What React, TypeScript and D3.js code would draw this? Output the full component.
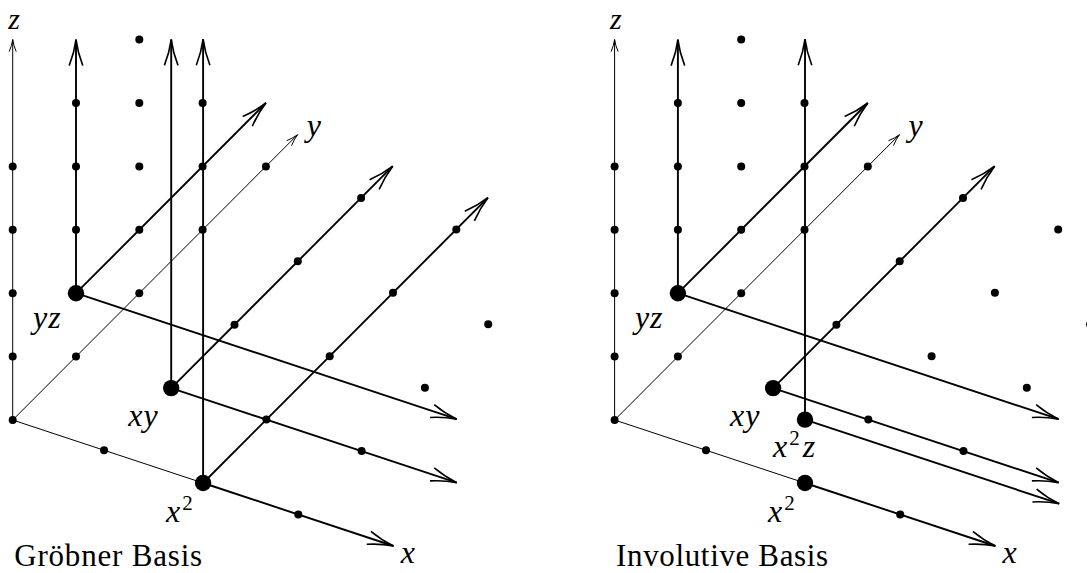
import React from 'react';
import * as d3 from 'd3';

type Vec3 = [number, number, number];

// lattice points drawn as small dots (same set in both panels)
const latticeDots: Vec3[] = [
  [0, 0, 0], [0, 0, 1], [0, 0, 2], [0, 0, 3], [0, 0, 4],
  [0, 1, 0], [0, 1, 2], [0, 1, 3], [0, 1, 4],
  [0, 2, 0], [0, 2, 1], [0, 2, 2], [0, 2, 3], [0, 2, 4],
  [0, 3, 0], [0, 3, 1], [0, 3, 2],
  [0, 4, 0],
  [0.96, 0, 0], [3, 0, 0],
  [1, 2, 0], [1, 3, 0], [1, 4, 0],
  [2, 1, 0], [2, 2, 0], [2, 3, 0], [2, 4, 0],
  [3, 1, 0], [3, 2, 0], [3, 3, 0],
];

// basis elements (big dots)
const groebnerGenerators: { m: Vec3; label: string }[] = [
  { m: [0, 1, 1], label: 'yz' },
  { m: [1, 1, 0], label: 'xy' },
  { m: [2, 0, 0], label: 'x2' },
];
const involutiveGenerators: { m: Vec3; label: string }[] = [
  { m: [0, 1, 1], label: 'yz' },
  { m: [1, 1, 0], label: 'xy' },
  { m: [2, 0, 1], label: 'x2z' },
  { m: [2, 0, 0], label: 'x2' },
];

// cones: start monomial, direction, length in lattice units
type Ray = { from: Vec3; dir: 'x' | 'y' | 'z'; len: number };
const groebnerRays: Ray[] = [
  { from: [0, 1, 1], dir: 'z', len: 4 },
  { from: [0, 1, 1], dir: 'y', len: 3 },
  { from: [0, 1, 1], dir: 'x', len: 4 },
  { from: [1, 1, 0], dir: 'z', len: 5.5 },
  { from: [1, 1, 0], dir: 'y', len: 3.5 },
  { from: [1, 1, 0], dir: 'x', len: 3 },
  { from: [2, 0, 0], dir: 'z', len: 7 },
  { from: [2, 0, 0], dir: 'y', len: 4.5 },
  { from: [2, 0, 0], dir: 'x', len: 2 },
];
const involutiveRays: Ray[] = [
  { from: [0, 1, 1], dir: 'z', len: 4 },
  { from: [0, 1, 1], dir: 'y', len: 3 },
  { from: [0, 1, 1], dir: 'x', len: 4 },
  { from: [1, 1, 0], dir: 'y', len: 3.5 },
  { from: [1, 1, 0], dir: 'x', len: 3 },
  { from: [2, 0, 1], dir: 'z', len: 6 },
  { from: [2, 0, 1], dir: 'x', len: 2.67 },
  { from: [2, 0, 0], dir: 'x', len: 2 },
];

// coordinate axes lengths
const axisLengths = { x: 2, y: 4.5, z: 6 };
const captions = ['Gröbner Basis', 'Involutive Basis'];

// label offsets (px) relative to the projected monomial
const labelOffset: Record<string, [number, number]> = {
  yz: [-43, 35],
  xy: [-43, 38],
  x2: [-37, 39],
  x2z: [-32, 37],
};

const W = 1087;
const H = 573;
const origins: [number, number][] = [[12.7, 420], [614.6, 420]];

// oblique projection of the unit vectors
const xToDx = d3.scaleLinear().domain([0, 1]).range([0, 95.2]);
const xToDy = d3.scaleLinear().domain([0, 1]).range([0, 31.5]);
const yToDx = d3.scaleLinear().domain([0, 1]).range([0, 63.3]);
const yToDy = d3.scaleLinear().domain([0, 1]).range([0, -63.4]);
const zToDy = d3.scaleLinear().domain([0, 1]).range([0, -63.4]);

const project = (p: Vec3, o: [number, number]): [number, number] => [
  o[0] + xToDx(p[0]) + yToDx(p[1]),
  o[1] + xToDy(p[0]) + yToDy(p[1]) + zToDy(p[2]),
];

const step = (p: Vec3, dir: 'x' | 'y' | 'z', t: number): Vec3 => {
  const q: Vec3 = [p[0], p[1], p[2]];
  q[dir === 'x' ? 0 : dir === 'y' ? 1 : 2] += t;
  return q;
};

const line = d3.line<[number, number]>();

function arrowHead(a: [number, number], b: [number, number], L: number, w: number) {
  const dx = b[0] - a[0];
  const dy = b[1] - a[1];
  const n = Math.hypot(dx, dy);
  const ux = dx / n;
  const uy = dy / n;
  const px = -uy;
  const py = ux;
  const w1: [number, number] = [b[0] - L * ux + w * px, b[1] - L * uy + w * py];
  const w2: [number, number] = [b[0] - L * ux - w * px, b[1] - L * uy - w * py];
  const c1: [number, number] = [b[0] - 0.5 * L * ux + 0.25 * w * px, b[1] - 0.5 * L * uy + 0.25 * w * py];
  const c2: [number, number] = [b[0] - 0.5 * L * ux - 0.25 * w * px, b[1] - 0.5 * L * uy - 0.25 * w * py];
  const p = d3.path();
  p.moveTo(w1[0], w1[1]);
  p.quadraticCurveTo(c1[0], c1[1], b[0], b[1]);
  p.quadraticCurveTo(c2[0], c2[1], w2[0], w2[1]);
  return p.toString();
}

const mathFont = '"Liberation Serif", "Times New Roman", serif';

function MathLabel({ label, x, y }: { label: string; x: number; y: number }) {
  const base = { fontFamily: mathFont, fontSize: 32, fontStyle: 'italic' as const };
  if (label === 'x2') {
    return (
      <text x={x} y={y} {...base}>
        x<tspan dx={2} dy={-12} fontSize={21} fontStyle="normal">2</tspan>
      </text>
    );
  }
  if (label === 'x2z') {
    return (
      <text x={x} y={y} {...base}>
        x<tspan dx={2} dy={-12} fontSize={21} fontStyle="normal">2</tspan>
        <tspan dx={3} dy={12}>z</tspan>
      </text>
    );
  }
  return (
    <text x={x} y={y} {...base} letterSpacing={1}>
      {label}
    </text>
  );
}

function Panel({ o, generators, rays, caption }: {
  o: [number, number];
  generators: { m: Vec3; label: string }[];
  rays: Ray[];
  caption: string;
}) {
  const origin: Vec3 = [0, 0, 0];
  const axes = (['x', 'y', 'z'] as const).map(d => {
    const a = project(origin, o);
    const b = project(step(origin, d, axisLengths[d]), o);
    return { d, a, b };
  });

  return (
    <g>
      {axes.map(({ d, a, b }) => (
        <g key={d}>
          <path d={line([a, b]) ?? ''} stroke="#000" strokeWidth={1} fill="none" />
          {d !== 'x' && (
            <path d={arrowHead(a, b, 12, 3.5)} stroke="#000" strokeWidth={1} fill="none" />
          )}
        </g>
      ))}
      {rays.map((r, i) => {
        const a = project(r.from, o);
        const b = project(step(r.from, r.dir, r.len), o);
        return (
          <g key={i}>
            <path d={line([a, b]) ?? ''} stroke="#000" strokeWidth={1.9} fill="none" />
            <path d={arrowHead(a, b, 26, 6.8)} stroke="#000" strokeWidth={1.6} fill="none" />
          </g>
        );
      })}
      {latticeDots.map((p, i) => {
        const [cx, cy] = project(p, o);
        return <circle key={i} cx={cx} cy={cy} r={4} fill="#000" />;
      })}
      {generators.map(g => {
        const [cx, cy] = project(g.m, o);
        const [dx, dy] = labelOffset[g.label];
        return (
          <g key={g.label}>
            <circle cx={cx} cy={cy} r={8.2} fill="#000" />
            <MathLabel label={g.label} x={cx + dx} y={cy + dy} />
          </g>
        );
      })}
      <text x={o[0] - 4.5} y={29} fontFamily={mathFont} fontSize={30} fontStyle="italic">z</text>
      <text x={o[0] + 294} y={136} fontFamily={mathFont} fontSize={32} fontStyle="italic">y</text>
      <text x={o[0] + 388} y={563} fontFamily={mathFont} fontSize={32} fontStyle="italic">x</text>
      <text x={o[0] + 1.5} y={566} fontFamily={mathFont} fontSize={31} textLength={caption.length > 13 ? 212 : 188}>
        {caption}
      </text>
    </g>
  );
}

export default function App() {
  return (
    <svg
      width={W}
      height={H}
      viewBox={`0 0 ${W} ${H}`}
      style={{ position: 'absolute', left: 0, top: 0, background: '#fff' }}
    >
      <rect width={W} height={H} fill="#fff" />
      <Panel o={origins[0]} generators={groebnerGenerators} rays={groebnerRays} caption={captions[0]} />
      <Panel o={origins[1]} generators={involutiveGenerators} rays={involutiveRays} caption={captions[1]} />
    </svg>
  );
}
